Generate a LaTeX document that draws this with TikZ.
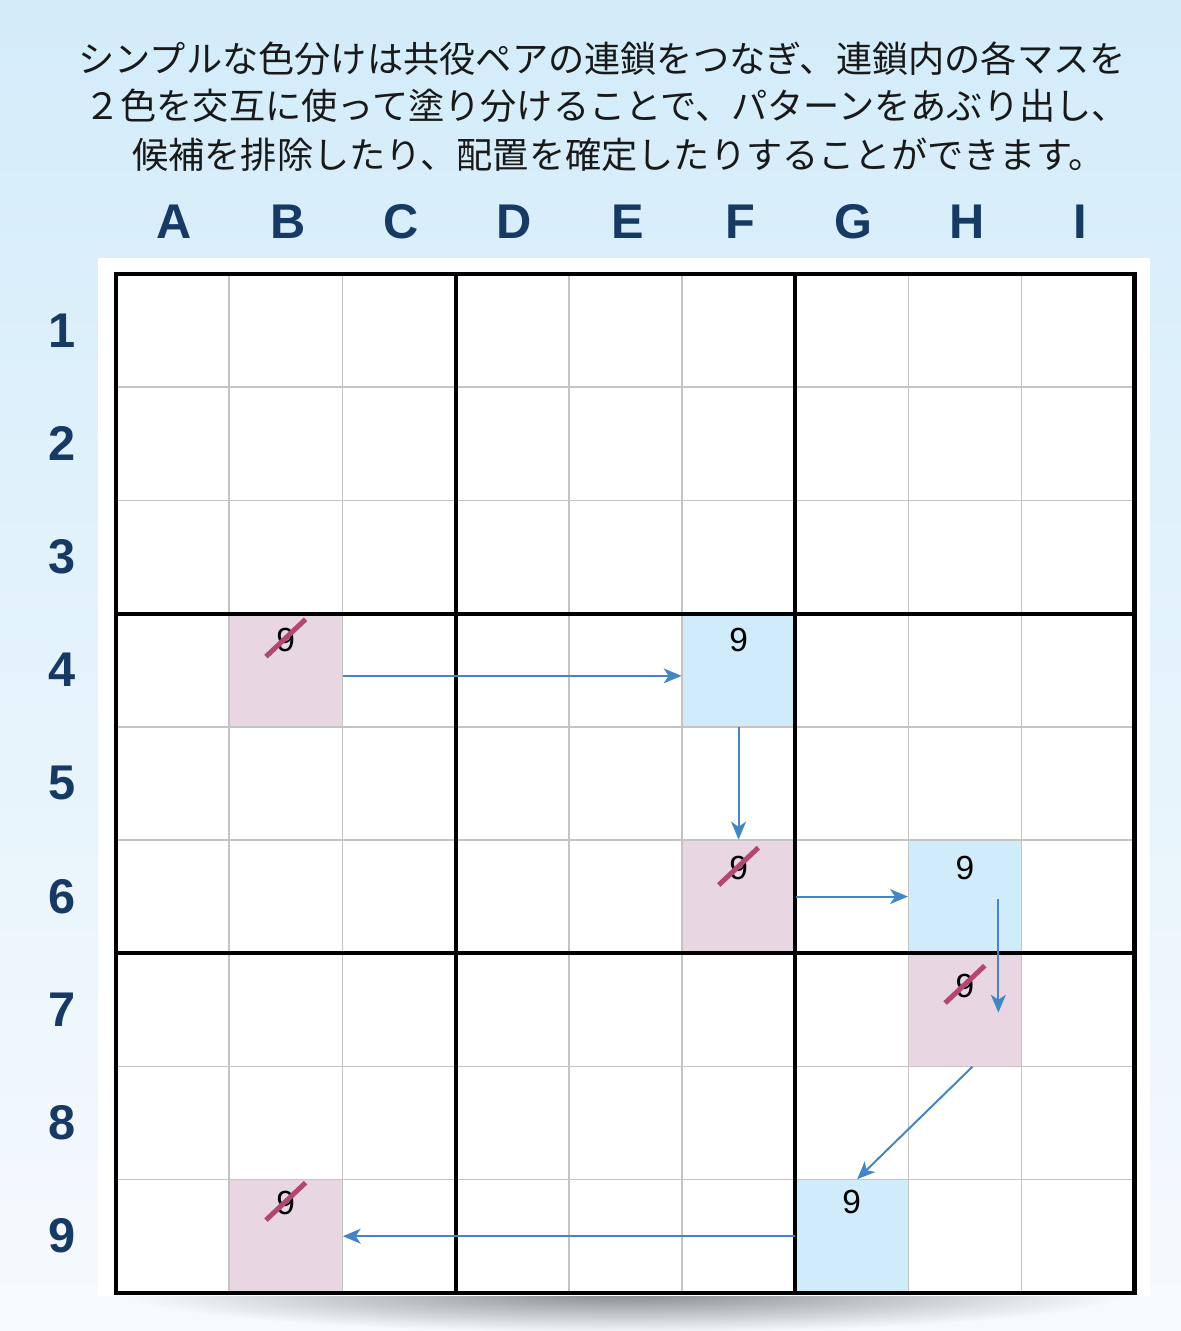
\documentclass[tikz,border=0pt]{standalone}
\usepackage{fontspec}
\setmainfont{Liberation Sans}
\newfontfamily\jpfont{Noto Sans CJK JP}
\usetikzlibrary{arrows.meta,fadings}

\definecolor{skyTop}{HTML}{D3ECFA}
\definecolor{skyBottom}{HTML}{F6FAFD}
\definecolor{navy}{HTML}{163A64}
\definecolor{blueCell}{HTML}{D0ECFA}
\definecolor{pinkCell}{HTML}{E8D6E2}
\definecolor{strikeRed}{HTML}{B04870}
\definecolor{chainBlue}{HTML}{4486C4}
\definecolor{thinGrid}{HTML}{C4C4C4}

\tikzfading[name=shadowfade, inner color=transparent!0, outer color=transparent!100]

\newlength\cell
\setlength\cell{20mm}

\newcommand\drawGrid{
  \foreach \i in {1,2,4,5,7,8} {
    \draw[thinGrid, line width=0.75pt] (\i*\cell,0) -- ++(0,-9*\cell);
    \draw[thinGrid, line width=0.75pt] (0,-\i*\cell) -- ++(9*\cell,0);
  }
  \foreach \i in {3,6} {
    \draw[line width=2pt] (\i*\cell,0) -- ++(0,-9*\cell);
    \draw[line width=2pt] (0,-\i*\cell) -- ++(9*\cell,0);
  }
  \draw[line width=2.3pt] (0,0) rectangle (9*\cell,-9*\cell);
}

\tikzset{
  cellbox/.style={rectangle, minimum size=\cell, inner sep=0pt, draw=none},
  digit/.style={inner sep=0pt, font=\fontsize{16.8pt}{18pt}\selectfont},
  strike/.style={strikeRed, line width=2.5pt},
  chain/.style={chainBlue, line width=1pt, -{Stealth[length=9pt, width=7.5pt, inset=2.5pt]}},
  gridlabel/.style={navy, font=\bfseries\fontsize{24.5pt}{26pt}\selectfont},
  introline/.style={text=black!90, inner sep=0pt, font=\jpfont\fontsize{18.2pt}{24.4pt}\selectfont}
}

\begin{document}
\begin{tikzpicture}
    \useasboundingbox (-20.49mm,48.41mm) rectangle (188.16mm,-186.75mm);
    \shade[top color=skyTop, bottom color=skyBottom] (-20.49mm,48.41mm) rectangle (188.16mm,-186.75mm);

    \fill[black, opacity=0.45, path fading=shadowfade] (4.5*\cell,-9*\cell) ellipse ({4.4*\cell} and {0.35*\cell});
    \fill[white] (-3.2mm,2.8mm) rectangle (182.7mm,-180.6mm);

    \foreach \name/\col/\row/\clr in {B4/1/3/pinkCell, F4/5/3/blueCell, F6/5/5/pinkCell,
        H6/7/5/blueCell, H7/7/6/pinkCell, G9/6/8/blueCell, B9/1/8/pinkCell} {
      \node[cellbox, fill=\clr] (\name) at ({(\col+0.5)*\cell},{-(\row+0.5)*\cell}) {};
    }

    \drawGrid

    \foreach \name/\dy in {B4/5.4mm, F4/5.4mm, F6/5.05mm, H6/5.05mm, H7/4.2mm, G9/6mm, B9/5.85mm} {
      \node[digit] (d\name) at ([yshift=\dy]\name.center) {9};
    }
    \foreach \name in {B4,F6,H7,B9} {
      \draw[strike] ([shift={(-3.5mm,-3mm)}]d\name.center) -- ([shift={(3.5mm,3.6mm)}]d\name.center);
    }

    \draw[chain] ([yshift=-1mm]B4.east) -- ([yshift=-1mm]F4.west);
    \draw[chain] (F4.south) -- (F6.north);
    \draw[chain] (F6.east) -- (H6.west);
    \draw[chain] ([shift={(5.9mm,-0.5mm)}]H6.center) -- ([shift={(5.9mm,-0.5mm)}]H7.center);
    \draw[chain] ([xshift=1.3mm]H7.south) -- ([xshift=0.95mm]G9.north);
    \draw[chain] (G9.west) -- (B9.east);

    \foreach \i/\label in {0/A,1/B,2/C,3/D,4/E,5/F,6/G,7/H,8/I} {
      \node[gridlabel] (col\label) at ({(\i+0.5)*\cell+0.35mm},9.2mm) {\label};
    }
    \foreach \i in {1,...,9} {
      \node[gridlabel] (row\i) at (-9.54mm,{-(\i-0.5)*\cell}) {\i};
    }

    \node[introline] (intro1) at (85.9mm,38.1mm) {シンプルな色分けは共役ペアの連鎖をつなぎ、連鎖内の各マスを};
    \node[introline] (intro2) at (86.6mm,29.7mm) {２色を交互に使って塗り分けることで、パターンをあぶり出し、};
    \node[introline] (intro3) at (88.8mm,21.1mm) {候補を排除したり、配置を確定したりすることができます。};
  \end{tikzpicture}
\end{document}
